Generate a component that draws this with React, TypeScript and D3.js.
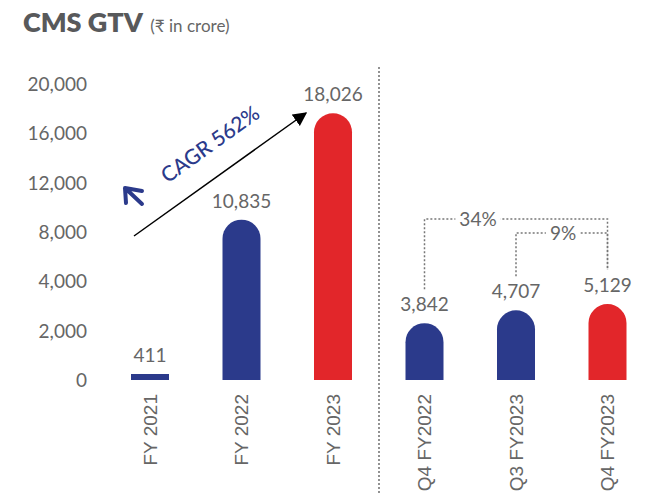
import React, { useEffect, useRef } from "react";
import * as d3 from "d3";

const categories = ["FY 2021", "FY 2022", "FY 2023", "Q4 FY2022", "Q3 FY2023", "Q4 FY2023"];
const values = [411, 10835, 18026, 3842, 4707, 5129];
const highlight = [false, false, true, false, false, true];
const tickLabels = ["0", "2,000", "4,000", "8,000", "12,000", "16,000", "20,000"];
const growth = [
  { from: "Q4 FY2022", to: "Q4 FY2023", label: "34%" },
  { from: "Q3 FY2023", to: "Q4 FY2023", label: "9%" },
];
const cagrLabel = "CAGR 562%";

const W = 672;
const H = 493;
const BLUE = "#2b3a8b";
const RED = "#e2262a";
const GREY = "#666";
const FONT = "Lato, 'Noto Sans', sans-serif";

export default function App() {
  const ref = useRef<SVGSVGElement>(null);

  useEffect(() => {
    document.body.style.margin = "0";
    const svg = d3.select(ref.current);
    svg.selectAll("*").remove();

    const x = d3.scalePoint<string>().domain(categories).range([150, 607.5]);
    const y = d3.scaleLinear().domain([0, 20000]).range([380, 84]);
    const yTicks = d3.scalePoint<string>().domain(tickLabels).range([380, 84]);
    const barW = 38;
    const r = barW / 2;

    // title
    const title = svg.append("text").attr("x", 23).attr("y", 32).style("font-family", FONT);
    title.append("tspan").text("CMS GTV").attr("font-size", 27).attr("font-weight", 800).attr("fill", "#58595b");
    title.append("tspan").text(" (₹ in crore)").attr("font-size", 17).attr("fill", GREY).attr("dx", 3);

    // y tick labels
    svg.append("g")
      .selectAll("text")
      .data(tickLabels)
      .enter()
      .append("text")
      .attr("x", 87)
      .attr("y", (d) => yTicks(d)!)
      .attr("dy", "0.36em")
      .attr("text-anchor", "end")
      .attr("font-size", 19)
      .attr("fill", GREY)
      .style("font-family", FONT)
      .text((d) => d);

    // separator
    svg.append("line")
      .attr("x1", 379).attr("x2", 379)
      .attr("y1", 67).attr("y2", H)
      .attr("stroke", "#777")
      .attr("stroke-width", 1.6)
      .attr("stroke-dasharray", "2,2");

    // bars
    const barPath = (cx: number, v: number) => {
      const top = y(v);
      const bot = y(0);
      const x0 = cx - r;
      const x1 = cx + r;
      if (bot - top <= r) return `M${x0},${bot}V${top}H${x1}V${bot}Z`;
      return `M${x0},${bot}V${top + r}A${r},${r} 0 0 1 ${x1},${top + r}V${bot}Z`;
    };
    svg.append("g")
      .selectAll("path")
      .data(categories)
      .enter()
      .append("path")
      .attr("d", (d, i) => barPath(x(d)!, values[i]))
      .attr("fill", (d, i) => (highlight[i] ? RED : BLUE));

    // value labels
    svg.append("g")
      .selectAll("text")
      .data(categories)
      .enter()
      .append("text")
      .attr("x", (d) => x(d)!)
      .attr("y", (d, i) => y(values[i]) - 12)
      .attr("text-anchor", "middle")
      .attr("font-size", 19)
      .attr("fill", GREY)
      .style("font-family", FONT)
      .text((d, i) => d3.format(",")(values[i]));

    // category labels
    svg.append("g")
      .selectAll("text")
      .data(categories)
      .enter()
      .append("text")
      .attr("transform", (d) => `translate(${x(d)},394) rotate(-90)`)
      .attr("dy", "0.36em")
      .attr("text-anchor", "end")
      .attr("font-size", 19)
      .attr("fill", GREY)
      .style("font-family", "'Liberation Sans', Arial, sans-serif")
      .text((d) => d);

    // growth brackets
    const levels = [219, 233];
    growth.forEach((g, k) => {
      const i0 = categories.indexOf(g.from);
      const i1 = categories.indexOf(g.to);
      const xa = x(g.from)!;
      const xb = x(g.to)!;
      const top = levels[k];
      const ya = y(values[i0]) - 34;
      const yb = y(values[i1]) - 34;
      svg.append("path")
        .attr("d", `M${xa},${ya}V${top}H${xb}V${yb}`)
        .attr("fill", "none")
        .attr("stroke", "#777")
        .attr("stroke-width", 1.5)
        .attr("stroke-dasharray", "2,2");
      const tx = k === 0 ? 478 : 563;
      const bg = svg.append("rect").attr("fill", "#fff");
      const t = svg.append("text")
        .attr("x", tx)
        .attr("y", top)
        .attr("dy", "0.36em")
        .attr("text-anchor", "middle")
        .attr("font-size", 19)
        .attr("fill", GREY)
        .style("font-family", FONT)
        .text(g.label);
      const bb = (t.node() as SVGTextElement).getBBox();
      bg.attr("x", bb.x - 4)
        .attr("y", top - 3)
        .attr("width", bb.width + 8)
        .attr("height", 6);
    });

    // CAGR arrow
    const defs = svg.append("defs");
    defs.append("marker")
      .attr("id", "ah")
      .attr("viewBox", "0 0 10 10")
      .attr("refX", 9)
      .attr("refY", 5)
      .attr("markerWidth", 14)
      .attr("markerHeight", 14)
      .attr("markerUnits", "userSpaceOnUse")
      .attr("orient", "auto")
      .append("path")
      .attr("d", "M0,0L10,5L0,10Z")
      .attr("fill", "#000");
    const p0 = [134, 236];
    const p1 = [306, 113];
    svg.append("line")
      .attr("x1", p0[0]).attr("y1", p0[1])
      .attr("x2", p1[0]).attr("y2", p1[1])
      .attr("stroke", "#000")
      .attr("stroke-width", 1.5)
      .attr("marker-end", "url(#ah)");
    const ang = (Math.atan2(p1[1] - p0[1], p1[0] - p0[0]) * 180) / Math.PI;
    svg.append("text")
      .attr("transform", `translate(210,144) rotate(${ang})`)
      .attr("text-anchor", "middle")
      .attr("dy", "0.36em")
      .attr("font-size", 21)
      .attr("font-weight", 500)
      .attr("fill", BLUE)
      .style("font-family", FONT)
      .text(cagrLabel);

    // small bold arrow
    svg.append("path")
      .attr("d", "M142,204L125,188M125,188L142,191M125,188L126,203")
      .attr("fill", "none")
      .attr("stroke", BLUE)
      .attr("stroke-width", 4)
      .attr("stroke-linecap", "round")
      .attr("stroke-linejoin", "round");
  }, []);

  return <svg ref={ref} width={W} height={H} style={{ display: "block", background: "#fff" }} />;
}
